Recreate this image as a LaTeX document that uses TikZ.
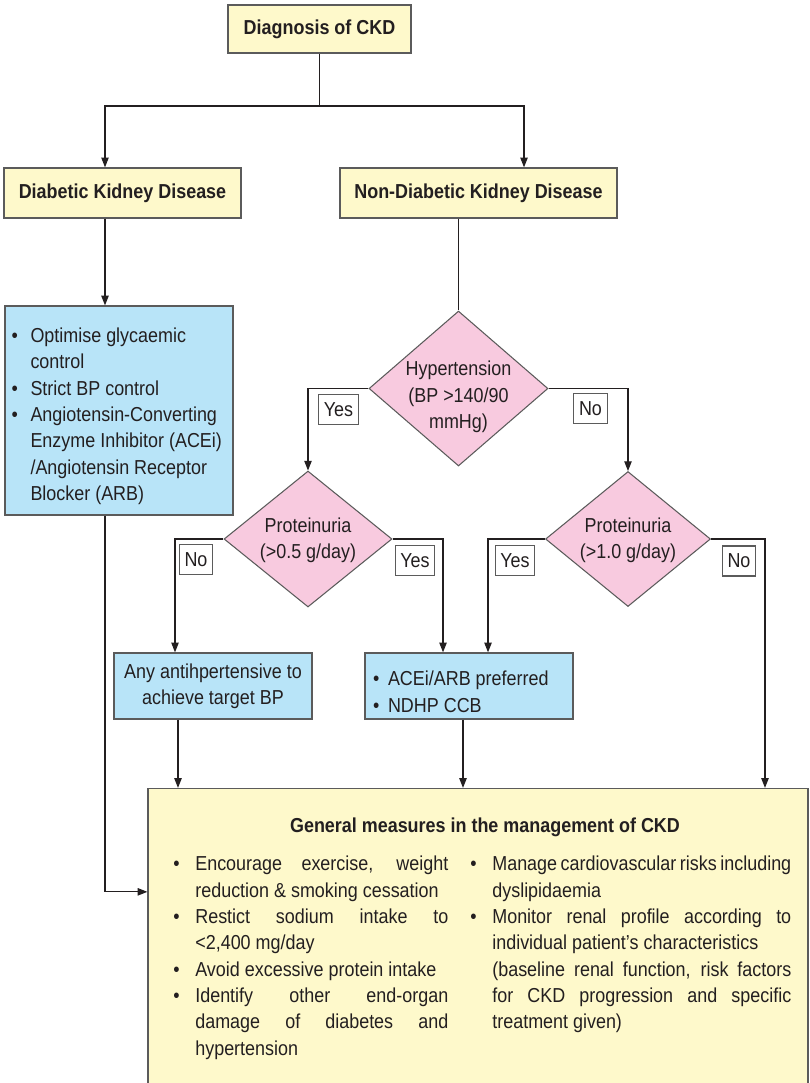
\documentclass[tikz,border=0pt]{standalone}
\usepackage{fontspec}
\setmainfont{Liberation Sans}[FakeStretch=0.888]
\usetikzlibrary{arrows.meta,calc,shapes.geometric}
\definecolor{BoxYellow}{HTML}{FEF9CB}
\definecolor{BoxBlue}{HTML}{B8E4F8}
\definecolor{DecPink}{HTML}{F8CADF}
\definecolor{EdgeGrey}{HTML}{5B5B5B}
\definecolor{Ink}{HTML}{231F20}
\newlength{\bulwd}
\newcommand{\bul}[2][0.38cm]{\par\noindent\setlength{\bulwd}{#1}\spaceskip=0pt\relax\xspaceskip=0pt\relax\hyphenpenalty=10000\relax\exhyphenpenalty=10000\relax\hangindent=\bulwd\relax\hangafter=1\relax\hbox to \bulwd{\textbullet\hfil}#2\par}

\begin{document}
\begin{tikzpicture}[x=0.02cm,y=-0.02cm,every node/.style={font=\fontsize{11.5}{15}\selectfont,text=Ink},yellowbox/.style={draw=EdgeGrey,line width=0.8pt,fill=BoxYellow,font=\fontsize{11.5}{15}\selectfont\bfseries},bluebox/.style={draw=EdgeGrey,line width=0.8pt,fill=BoxBlue},decision/.style={diamond,draw=EdgeGrey,line width=0.6pt,fill=DecPink,inner sep=0pt},tag/.style={draw=EdgeGrey,line width=0.6pt,fill=white,inner xsep=3pt,minimum height=0.6cm},link/.style={line width=0.6pt,draw=Ink},arr/.style={link,-{Triangle[length=5.5pt,width=4.2pt]}}]
\fill[white] (0,0) rectangle (810,1083);
\useasboundingbox (0,0) rectangle (810,1083);

% top level
\node[yellowbox,minimum width=3.66cm,minimum height=0.96cm] (diag) at (319.5,29) {Diagnosis of CKD};
\node[yellowbox,minimum width=4.74cm,minimum height=1cm] (dkd) at (122.5,193) {Diabetic Kidney Disease};
\node[yellowbox,minimum width=5.54cm,minimum height=1cm] (ndkd) at (478.5,193) {Non-Diabetic Kidney Disease};
\coordinate (split) at (319.5,106);
\draw[link] (diag) -- (split);
\draw[arr] (split) -| ($(dkd.north)+(-17.5,0)$);
\draw[arr] (split) -| ($(ndkd.north)+(45.5,0)$);

% diabetic branch
\node[bluebox,text width=4.3cm,inner xsep=0.13cm,minimum height=4.18cm] (dkdrx) at (119,410.5) {\bul{Optimise glycaemic\newline control}\bul{Strict BP control}\bul{Angiotensin-Converting\newline Enzyme Inhibitor (ACEi)\newline /Angiotensin Receptor\newline Blocker (ARB)}};
\draw[arr] ($(dkd.south)+(-17.5,0)$) -- ($(dkdrx.north)+(-14,0)$);

% non-diabetic branch
\node[decision,minimum width=3.58cm,minimum height=3.1cm] (hyp) at (458.5,388.5) {};
\node[align=center] (hyptxt) at (458.5,397) {Hypertension\\(BP >140/90\\mmHg)};
\node[decision,minimum width=3.36cm,minimum height=2.72cm] (prot1) at (308,539) {};
\node[align=center] (prot1txt) at (308,540) {Proteinuria\\(>0.5 g/day)};
\node[decision,minimum width=3.3cm,minimum height=2.7cm] (prot2) at (628,539) {};
\node[align=center] (prot2txt) at (628,540) {Proteinuria\\(>1.0 g/day)};
\draw[link] (ndkd.south -| hyp.north) -- (hyp.north);
\draw[arr] (hyp.west) -| (prot1.north);
\draw[arr] (hyp.east) -| (prot2.north);
\node[tag] (yes1) at (338.5,409.5) {Yes};
\node[tag] (no1) at (590.5,408.5) {No};

\node[bluebox,minimum width=3.96cm,minimum height=1.32cm,align=center] (anybox) at (213,686) {Any antihpertensive to\\achieve target BP};
\node[bluebox,text width=3.84cm,inner xsep=0.16cm,minimum height=1.32cm] (aceibox) at (469,686) {\bul[0.3cm]{ACEi/ARB preferred}\bul[0.3cm]{NDHP CCB}};
\draw[arr] (prot1.west) -| ($(anybox.north)+(-38,0)$);
\draw[arr] (prot1.east) -| ($(aceibox.north)+(-26,0)$);
\draw[arr] (prot2.west) -| ($(aceibox.north)+(19,0)$);
\node[tag] (no2) at (196,559.5) {No};
\node[tag] (yes2) at (415,560.5) {Yes};
\node[tag] (yes3) at (515,560.5) {Yes};
\node[tag] (no3) at (739,561) {No};

% general measures
\node[yellowbox,minimum width=13.2cm,minimum height=6.3cm] (gen) at (478,946) {};
\node[font=\fontsize{11.5}{15}\selectfont\bfseries] (gentitle) at (485,827) {General measures in the management of CKD};
\node[anchor=north west,text width=5.5cm,inner sep=0pt,align=justify] (genleft) at (173,844) {\bul[0.44cm]{Encourage exercise, weight\linebreak reduction \& smoking cessation}\bul[0.44cm]{Restict sodium intake to\linebreak <2,400 mg/day}\bul[0.44cm]{Avoid excessive protein intake}\bul[0.44cm]{Identify other end-organ\linebreak damage of diabetes and\linebreak hypertension}};
\node[anchor=north west,text width=6.42cm,inner sep=0pt,align=justify] (genright) at (470,844) {\bul[0.44cm]{Manage cardiovascular risks including\linebreak dyslipidaemia}\bul[0.44cm]{Monitor renal profile according to\linebreak individual patient’s characteristics\newline (baseline renal function, risk factors\linebreak for CKD progression and specific\linebreak treatment given)}};
\coordinate (anyout) at ($(anybox.south)+(-35,0)$);
\coordinate (aceiout) at ($(aceibox.south)+(-6,0)$);
\draw[arr] (anyout) -- (anyout |- gen.north);
\draw[arr] (aceiout) -- (aceiout |- gen.north);
\draw[arr] (prot2.east) -| ($(gen.north)+(287,0)$);
\draw[arr] ($(dkdrx.south)+(-14,0)$) |- ($(gen.north west)+(0,104)$);

\end{tikzpicture}
\end{document}
